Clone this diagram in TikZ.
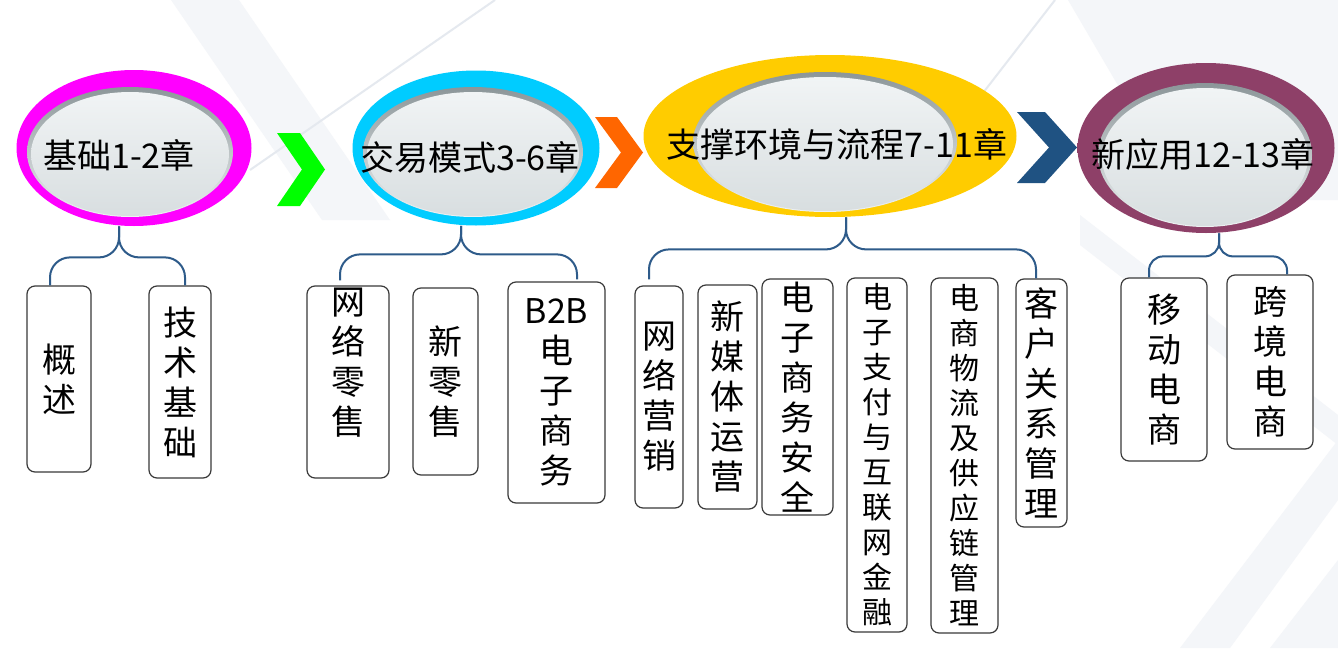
\documentclass[tikz,border=0pt]{standalone}
\usepackage{fontspec}
\setmainfont{Noto Sans CJK SC}
\usetikzlibrary{shapes.geometric, positioning, calc}

\definecolor{ringA}{HTML}{FF00FF}
\definecolor{ringB}{HTML}{00CCFF}
\definecolor{ringC}{HTML}{FFCC00}
\definecolor{ringD}{HTML}{761A4C}
\definecolor{ringDlt}{HTML}{8E4068}
\definecolor{chevA}{HTML}{00FF00}
\definecolor{chevB}{HTML}{FF6600}
\definecolor{chevC}{HTML}{1F5282}
\definecolor{rimtop}{HTML}{8C9699}
\definecolor{rimbot}{HTML}{EEF2F3}
\definecolor{facetop}{HTML}{F1F4F5}
\definecolor{facebot}{HTML}{D8DEE0}
\definecolor{linkblue}{HTML}{2E5B8A}
\definecolor{boxline}{HTML}{3A3A3A}
\definecolor{bgband}{HTML}{F4F6F9}
\definecolor{bgline}{HTML}{E5E9EF}

\begin{document}
\begin{tikzpicture}[x=0.5pt, y=-0.5pt,
    font=\fontsize{17pt}{20pt}\selectfont,
    ring/.style={ellipse, inner sep=0pt},
    rim/.style={ellipse, inner sep=0pt, top color=rimtop, bottom color=rimbot},
    face/.style={ellipse, inner sep=0pt, top color=facetop, bottom color=facebot},
    title/.style={inner sep=0pt},
    box/.style={draw=boxline, line width=0.6pt, rounded corners=4pt, fill=white, inner sep=0pt, align=center},
    small/.style={font=\fontsize{15pt}{17.5pt}\selectfont},
    link/.style={draw=linkblue, line width=1pt, rounded corners=10pt}]

    % background
    \fill[white] (0,0) rectangle (1338,648);
    \useasboundingbox (0,0) rectangle (1338,648);
    \fill[bgband] (171,0) -- (239,0) -- (390,220) -- (322,220) -- cycle;
    \fill[bgband] (1068,0) -- (1338,0) -- (1338,200) -- (1185,200) -- cycle;
    \fill[bgband] (1080,215) -- (1080,245) -- (1338,445) -- (1338,415) -- cycle;
    \fill[bgband] (1180,648) -- (1338,440) -- (1338,500) -- (1230,648) -- cycle;
    \fill[bgband] (1270,648) -- (1338,560) -- (1338,648) -- cycle;
    \draw[bgline, line width=1pt] (495,0) -- (250,170);
    \draw[bgline, line width=1pt] (1055,0) -- (900,200);

    % chevrons
    \fill[chevA] (277,133) -- (300,133) -- (325,169.5) -- (300,206) -- (277,206) -- (302,169.5) -- cycle;
    \fill[chevB] (595,117) -- (617,117) -- (643,152.5) -- (617,188) -- (595,188) -- (621,152.5) -- cycle;
    \fill[chevC] (1017,112) -- (1045,112) -- (1077,147.5) -- (1045,183) -- (1017,183) -- (1049,147.5) -- cycle;

    % chapter groups
    \node[ring, fill=ringA, minimum width=117.5pt, minimum height=78pt] (r1) at (134,148) {};
    \node[rim, minimum width=103pt, minimum height=65pt] (l1) at (130,152) {};
    \node[face, minimum width=99pt, minimum height=62pt] (f1) at (130,154) {};
    \node[title] (h1) at (119,155) {基础1-2章};

    \node[ring, fill=ringB, minimum width=123.5pt, minimum height=77.5pt] (r2) at (476,148) {};
    \node[rim, minimum width=110pt, minimum height=65pt] (l2) at (473,152) {};
    \node[face, minimum width=106pt, minimum height=62pt] (f2) at (473,154) {};
    \node[title] (h2) at (470,157) {交易模式3-6章};

    \node[ring, fill=ringC, minimum width=186.5pt, minimum height=81pt] (r3) at (830,136) {};
    \node[rim, minimum width=132pt, minimum height=70pt] (l3) at (825,142) {};
    \node[face, minimum width=128pt, minimum height=67pt] (f3) at (825,144) {};
    \node[title] (h3) at (837,144) {支撑环境与流程7-11章};

    \node[ring, left color=ringDlt, middle color=ringD, right color=ringDlt, minimum width=128.5pt, minimum height=85pt] (r4) at (1206,148) {};
    \node[rim, minimum width=107pt, minimum height=72pt] (l4) at (1205,155) {};
    \node[face, minimum width=103pt, minimum height=69pt] (f4) at (1205,157) {};
    \node[title] (h4) at (1203,154) {新应用12-13章};

    % topics
    \node[box, minimum width=32pt, minimum height=93pt] (k1) at (59,379) {概\\述};
    \node[box, minimum width=31pt, minimum height=96pt] (k2) at (180,382) {技\\术\\基\\础};
    \node[box, minimum width=41pt, minimum height=96pt] (k3) at (348,382) {};
    \node[anchor=north, inner sep=0pt, align=center] (t3) at ([yshift=-1pt]k3.north) {网\\络\\零\\售};
    \node[box, minimum width=32.5pt, minimum height=93.5pt] (k4) at (445.5,381.5) {新\\零\\售};
    \node[box, minimum width=48.5pt, minimum height=110.5pt] (k5) at (556.5,392.5) {B2B\\电\\子\\商\\务};
    \node[box, minimum width=24pt, minimum height=111pt] (k6) at (659,397) {网\\络\\营\\销};
    \node[box, minimum width=29.5pt, minimum height=112pt] (k7) at (727.5,397) {新\\媒\\体\\运\\营};
    \node[box, minimum width=35.5pt, minimum height=118pt] (k8) at (797.5,397) {电\\子\\商\\务\\安\\全};
    \node[box, small, minimum width=30pt, minimum height=177pt] (k9) at (877,455) {电\\子\\支\\付\\与\\互\\联\\网\\金\\融};
    \node[box, small, minimum width=33.5pt, minimum height=177.5pt] (k10) at (964.5,455.5) {电\\商\\物\\流\\及\\供\\应\\链\\管\\理};
    \node[box, minimum width=25.5pt, minimum height=124pt] (k11) at (1041.5,403) {客\\户\\关\\系\\管\\理};
    \node[box, minimum width=43pt, minimum height=91.5pt] (k12) at (1164,369.5) {移\\动\\电\\商};
    \node[box, minimum width=43pt, minimum height=87pt] (k13) at (1270,362) {跨\\境\\电\\商};

    % braces
    \draw[link] ([xshift=-7.5pt]r1.south) |- ([xshift=-4.5pt,yshift=14pt]k1.north) -- ([xshift=-4.5pt]k1.north);
    \draw[link] ([xshift=-7.5pt]r1.south) |- ([xshift=2.5pt,yshift=14pt]k2.north) -- ([xshift=2.5pt]k2.north);
    \draw[link] ([xshift=-7.5pt]r2.south) |- ([xshift=-4pt,yshift=15.5pt]k3.north) -- ([xshift=-4pt,yshift=2.5pt]k3.north);
    \draw[link] ([xshift=-7.5pt]r2.south) |- ([xshift=10.25pt,yshift=13.5pt]k5.north) -- ([xshift=10.25pt,yshift=1pt]k5.north);
    \draw[link] ([xshift=8pt]r3.south) |- ([xshift=-5pt,yshift=18pt]k6.north) -- ([xshift=-5pt,yshift=3pt]k6.north);
    \draw[link] ([xshift=8pt]r3.south) |- ([xshift=-2.75pt,yshift=14.5pt]k11.north) -- ([xshift=-2.75pt]k11.north);
    \draw[link, rounded corners=7pt] ([xshift=6.5pt]r4.south) |- ([xshift=-7.5pt,yshift=10.5pt]k12.north) -- ([xshift=-7.5pt]k12.north);
    \draw[link, rounded corners=7pt] ([xshift=6.5pt]r4.south) |- ([xshift=8.5pt,yshift=9pt]k13.north) -- ([xshift=8.5pt]k13.north);
\end{tikzpicture}
\end{document}
